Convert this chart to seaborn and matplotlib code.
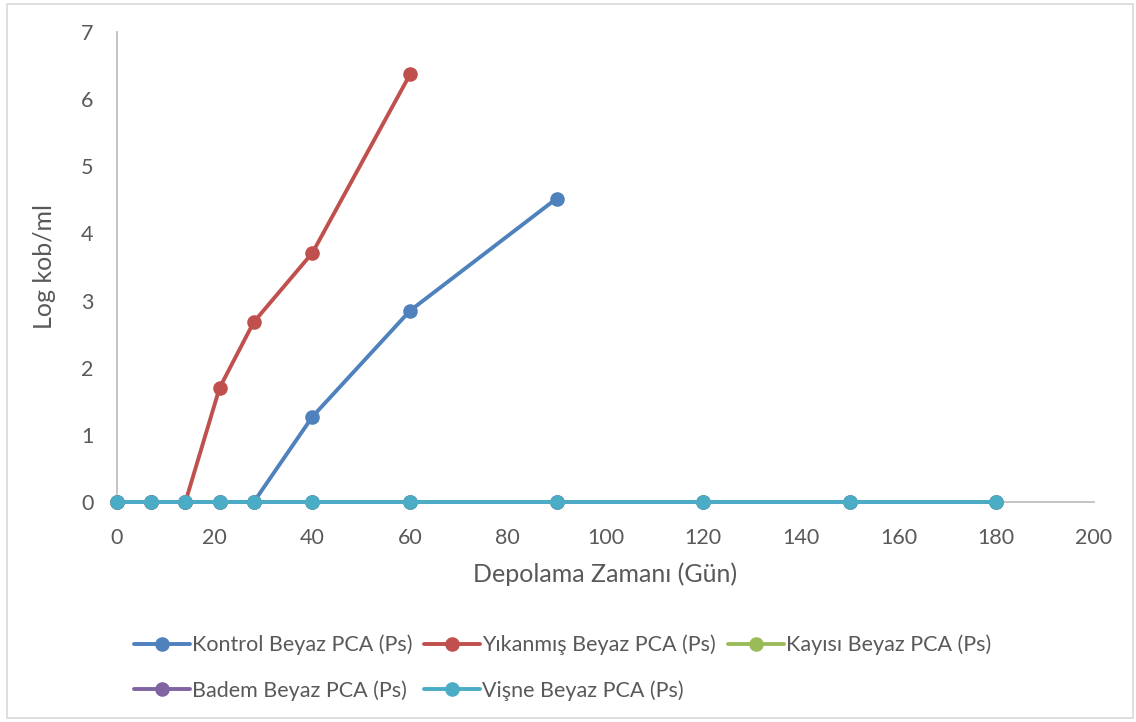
import numpy as np
import pandas as pd
import matplotlib
matplotlib.use("Agg")
import matplotlib.pyplot as plt
from matplotlib.lines import Line2D
from matplotlib.patches import Rectangle
import seaborn as sns

# Storage days per series
days_kontrol = [0, 7, 14, 21, 28, 40, 60, 90]
days_yikanmis = [0, 7, 14, 21, 28, 40, 60]
days_full = [0, 7, 14, 21, 28, 40, 60, 90, 120, 150, 180]

# Log cfu/ml counts
kontrol = [0, 0, 0, 0, 0, 1.27, 2.85, 4.52]
yikanmis = [0, 0, 0, 1.70, 2.68, 3.71, 6.37]
kayisi = [0, 0, 0, 0, 0, 0, 0, 0, 0, 0, 0]
badem = [0, 0, 0, 0, 0, 0, 0, 0, 0, 0, 0]
visne = [0, 0, 0, 0, 0, 0, 0, 0, 0, 0, 0]

series_names = [
    "Kontrol Beyaz PCA (Ps)",
    "Yıkanmış Beyaz PCA (Ps)",
    "Kayısı Beyaz PCA (Ps)",
    "Badem Beyaz PCA (Ps)",
    "Vişne Beyaz PCA (Ps)",
]
series_colors = ["#4F81BD", "#C0504D", "#9BBB59", "#8064A2", "#4BACC6"]

x_ticks = [0, 20, 40, 60, 80, 100, 120, 140, 160, 180, 200]
y_ticks = [0, 1, 2, 3, 4, 5, 6, 7]

frames = []
for name, xs, ys in zip(series_names,
                        [days_kontrol, days_yikanmis, days_full, days_full, days_full],
                        [kontrol, yikanmis, kayisi, badem, visne]):
    frames.append(pd.DataFrame({"Gün": xs, "Log": ys, "Seri": name}))
df = pd.concat(frames, ignore_index=True)

sns.set_theme(style="white")
plt.rcParams["font.family"] = ["Lato", "DejaVu Sans"]
text_color = "#595959"
axis_color = "#BFBFBF"

fig = plt.figure(figsize=(11.36, 7.22), dpi=100)
ax = fig.add_axes([0.103, 0.3047, 0.860, 0.651])

palette = dict(zip(series_names, series_colors))
sns.lineplot(data=df, x="Gün", y="Log", hue="Seri", hue_order=series_names,
             palette=palette, marker="o", markersize=10.5, markeredgewidth=0,
             linewidth=2.8, sort=False, legend=False, ax=ax)

ax.set_xlim(0, 200)
ax.set_ylim(0, 7)
ax.set_xticks(x_ticks)
ax.set_yticks(y_ticks)
ax.tick_params(axis="both", length=0, labelsize=15.5, labelcolor=text_color)
ax.tick_params(axis="x", pad=19)
ax.tick_params(axis="y", pad=17)
for line in ax.lines:
    line.set_clip_on(False)

for side in ["top", "right"]:
    ax.spines[side].set_visible(False)
for side in ["left", "bottom"]:
    ax.spines[side].set_color(axis_color)
    ax.spines[side].set_linewidth(1.3)
    ax.spines[side].set_zorder(0.5)

ax.set_xlabel("Depolama Zamanı (Gün)", fontsize=18, color=text_color, labelpad=10)
ax.set_ylabel("Log kob/ml", fontsize=18, color=text_color, labelpad=18)

# Legend: entries laid out row by row in a 3-column grid
handles = [Line2D([0], [0], color=c, linewidth=2.8, marker="o", markersize=10.5,
                  markeredgewidth=0) for c in series_colors]
order = [0, 3, 1, 4, 2]
leg = fig.legend([handles[i] for i in order], [series_names[i] for i in order],
                 ncol=3, loc="upper left", bbox_to_anchor=(0.110, 0.133),
                 frameon=False, fontsize=15.5, handlelength=2.6, handletextpad=0.1,
                 columnspacing=0.55, labelspacing=1.15, borderaxespad=0)
for t in leg.get_texts():
    t.set_color(text_color)

# Chart border
fig.patches.append(Rectangle((0.006, 0.005), 0.991, 0.99, transform=fig.transFigure,
                             fill=False, edgecolor="#D9D9D9", linewidth=1.2))

fig.savefig("out.png", dpi=100)
